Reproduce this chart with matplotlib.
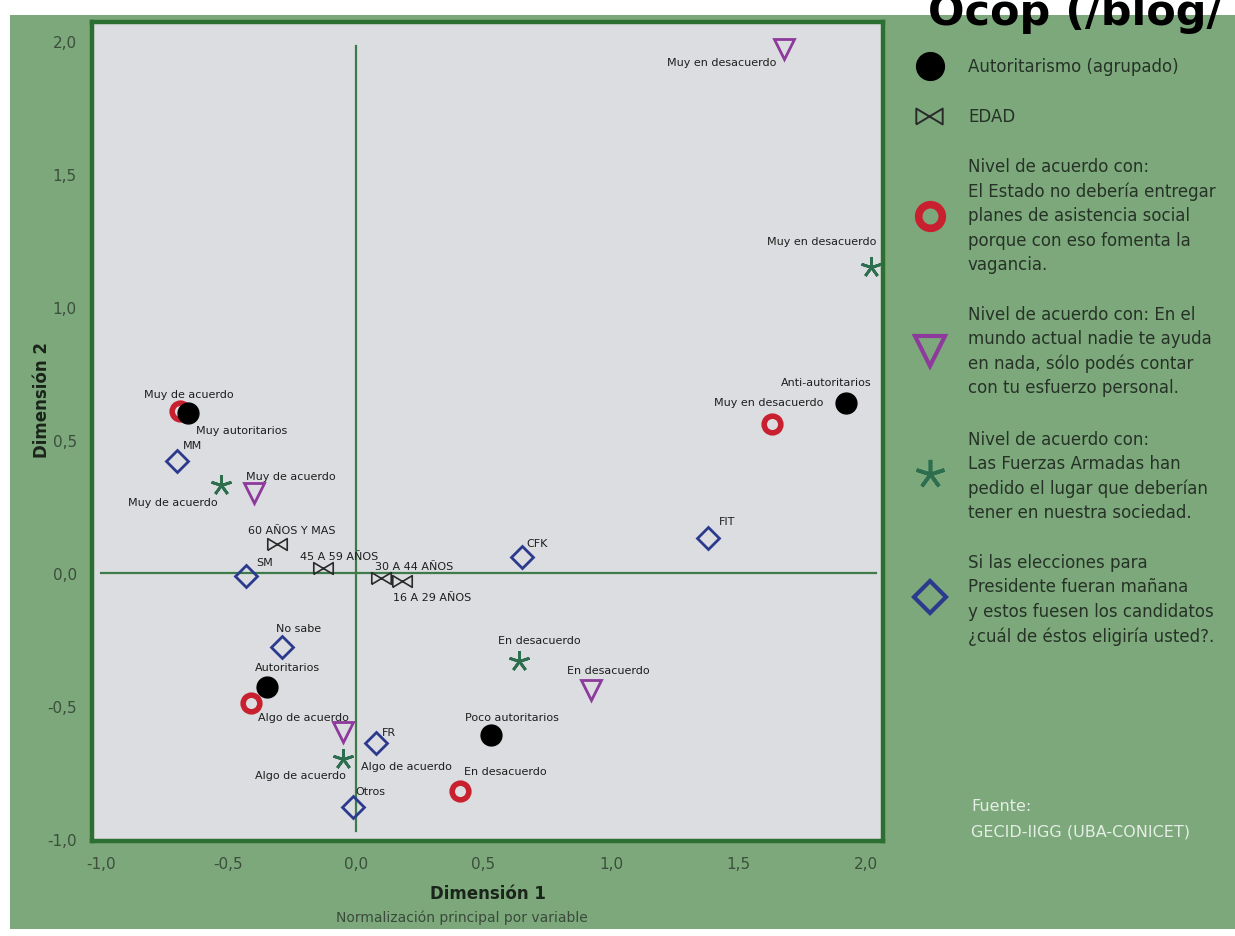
import matplotlib
matplotlib.use("Agg")
import matplotlib.pyplot as plt
from matplotlib.patches import Rectangle

# ---- data ----
# Autoritarismo (agrupado)
aut_labels = ["Muy autoritarios", "Anti-autoritarios", "Autoritarios", "Poco autoritarios"]
aut_x = [-0.66, 1.92, -0.35, 0.53]
aut_y = [0.60, 0.64, -0.43, -0.61]

# EDAD
edad_labels = ["60 AÑOS Y MAS", "45 A 59 AÑOS", "30 A 44 AÑOS", "16 A 29 AÑOS"]
edad_x = [-0.31, -0.13, 0.10, 0.18]
edad_y = [0.11, 0.02, -0.02, -0.03]

# El Estado no debería entregar planes de asistencia social...
planes_labels = ["Muy de acuerdo", "Muy en desacuerdo", "Algo de acuerdo", "En desacuerdo"]
planes_x = [-0.69, 1.63, -0.41, 0.41]
planes_y = [0.61, 0.56, -0.49, -0.82]

# En el mundo actual nadie te ayuda en nada...
ayuda_labels = ["Muy en desacuerdo", "Muy de acuerdo", "En desacuerdo", "Algo de acuerdo"]
ayuda_x = [1.68, -0.40, 0.92, -0.05]
ayuda_y = [1.97, 0.30, -0.44, -0.60]

# Las Fuerzas Armadas han perdido el lugar...
ffaa_labels = ["Muy en desacuerdo", "Muy de acuerdo", "En desacuerdo", "Algo de acuerdo"]
ffaa_x = [2.02, -0.53, 0.64, -0.05]
ffaa_y = [1.15, 0.33, -0.33, -0.70]

# Voto presidente
voto_labels = ["MM", "SM", "CFK", "FIT", "No sabe", "FR", "Otros"]
voto_x = [-0.70, -0.43, 0.65, 1.38, -0.29, 0.08, -0.01]
voto_y = [0.42, -0.01, 0.06, 0.13, -0.28, -0.64, -0.88]

x_ticks = [-1.0, -0.5, 0.0, 0.5, 1.0, 1.5, 2.0]
y_ticks = [-1.0, -0.5, 0.0, 0.5, 1.0, 1.5, 2.0]

# ---- label offsets in pixels (layout only) ----
aut_off = [(54, -17), (-19, 21), (21, 20), (21, 18)]
edad_off = [(15, 14), (16, 12), (33, 12), (30, -16)]
planes_off = [(9, 17), (-3, 22), (52, -14), (45, 20)]
ayuda_off = [(-63, -13), (37, 17), (18, 20), (63, -34)]
ffaa_off = [(-49, 26), (-48, -17), (20, 21), (-43, -16)]
voto_off = [(15, 16), (18, 14), (15, 14), (19, 17), (17, 19), (13, 11), (17, 16)]

BG = "#7ca87c"
PLOT_BG = "#dcdde0"
BORDER = "#2d6e32"
REF = "#3f7a4a"
RED = "#c8202f"
PURPLE = "#8e3a9c"
STAR = "#2d6e4e"
NAVY = "#2c3a8e"
BOW = "#2a2a2a"
LABEL = "#1e1e1e"
TICK = "#3b4f3b"

BOWTIE = [(-1, -0.6), (-1, 0.6), (1, -0.6), (1, 0.6), (-1, -0.6)]
ASTER = (5, 2, 0)

W, H = 1235, 937
fig = plt.figure(figsize=(W / 100, H / 100), dpi=100)
fig.patch.set_facecolor("white")
fig.add_artist(Rectangle((10 / W, 1 - 930 / H), (W - 10) / W, (930 - 16) / H,
                         transform=fig.transFigure, facecolor=BG,
                         edgecolor="none", zorder=-1))

ax = fig.add_axes([92 / W, 1 - 842 / H, (883 - 92) / W, (842 - 23) / H])
ax.set_facecolor(PLOT_BG)
ax.set_xlim(-1.035, 2.067)
ax.set_ylim(-1.008, 2.071)
for s in ax.spines.values():
    s.set_color(BORDER)
    s.set_linewidth(3.2)

ax.set_xticks(x_ticks)
ax.set_yticks(y_ticks)
ax.set_xticklabels([f"{v:.1f}".replace(".", ",") for v in x_ticks])
ax.set_yticklabels([f"{v:.1f}".replace(".", ",") for v in y_ticks])
ax.tick_params(length=0, labelsize=11, labelcolor=TICK, pad=11)

# reference axes through the origin
ax.plot([-1.0, 2.04], [0, 0], color=REF, lw=1.6, zorder=1)
ax.plot([0, 0], [-0.97, 1.98], color=REF, lw=1.6, zorder=1)

ax.plot(planes_x, planes_y, ls="none", marker="o", ms=12, mew=4,
        mfc="none", mec=RED, zorder=3)
ax.plot(aut_x, aut_y, ls="none", marker="o", ms=15, mfc="black",
        mec="black", zorder=4)
ax.plot(ayuda_x, ayuda_y, ls="none", marker="v", ms=14, mew=2,
        mfc="none", mec=PURPLE, zorder=3)
ax.plot(ffaa_x, ffaa_y, ls="none", marker=ASTER, ms=15, mew=2,
        color=STAR, zorder=3)
ax.plot(voto_x, voto_y, ls="none", marker="D", ms=11, mew=2,
        mfc="none", mec=NAVY, zorder=3)
ax.plot(edad_x, edad_y, ls="none", marker=BOWTIE, ms=14, mew=1.2,
        mfc="none", mec=BOW, zorder=3)

for labels, xs, ys, offs in [
    (aut_labels, aut_x, aut_y, aut_off),
    (edad_labels, edad_x, edad_y, edad_off),
    (planes_labels, planes_x, planes_y, planes_off),
    (ayuda_labels, ayuda_x, ayuda_y, ayuda_off),
    (ffaa_labels, ffaa_x, ffaa_y, ffaa_off),
    (voto_labels, voto_x, voto_y, voto_off),
]:
    for lab, x, y, (dx, dy) in zip(labels, xs, ys, offs):
        ax.annotate(lab, (x, y), xytext=(dx, dy), textcoords="offset pixels",
                    ha="center", va="center", fontsize=8, color=LABEL,
                    zorder=5)

ax.set_xlabel("Dimensión 1", fontsize=12, fontweight="bold", color="#1a241a",
              labelpad=9)
fig.text(462 / W, 1 - 918 / H, "Normalización principal por variable",
         ha="center", va="center", fontsize=10, color="#3a4a3a")
fig.text(42 / W, 1 - 400 / H, "Dimensión 2", rotation=90, ha="center",
         va="center", fontsize=12, fontweight="bold", color="#1a241a")

# ---- legend drawn on a pixel-space overlay ----
lg = fig.add_axes([0, 0, 1, 1], zorder=5)
lg.set_xlim(0, W)
lg.set_ylim(H, 0)
lg.axis("off")
lg.patch.set_alpha(0)

LEG_TXT = "#263226"
LX = 968
PITCH = 24.5

lg.plot([930], [67], marker="o", ms=20, color="black", ls="none")
lg.plot([929], [117], marker=BOWTIE, ms=19, mew=1.4, mfc="none", mec=BOW, ls="none")
lg.plot([930], [217], marker="o", ms=17, mew=5.5, mfc="none", mec=RED, ls="none")
lg.plot([930], [352], marker="v", ms=21, mew=3, mfc="none", mec=PURPLE, ls="none")
lg.plot([930], [475], marker=ASTER, ms=21, mew=2.6, color=STAR, ls="none")
lg.plot([930], [598], marker="D", ms=16, mew=3, mfc="none", mec=NAVY, ls="none")

legend_blocks = [
    (67, ["Autoritarismo (agrupado)"]),
    (117, ["EDAD"]),
    (167, ["Nivel de acuerdo con:",
           "El Estado no debería entregar",
           "planes de asistencia social",
           "porque con eso fomenta la",
           "vagancia."]),
    (315, ["Nivel de acuerdo con: En el",
           "mundo actual nadie te ayuda",
           "en nada, sólo podés contar",
           "con tu esfuerzo personal."]),
    (440, ["Nivel de acuerdo con:",
           "Las Fuerzas Armadas han",
           "pedido el lugar que deberían",
           "tener en nuestra sociedad."]),
    (563, ["Si las elecciones para",
           "Presidente fueran mañana",
           "y estos fuesen los candidatos",
           "¿cuál de éstos eligiría usted?."]),
]
for y0, lines in legend_blocks:
    for i, line in enumerate(lines):
        lg.text(LX, y0 + i * PITCH, line, ha="left", va="center",
                fontsize=12, color=LEG_TXT)

lg.text(971, 807, "Fuente:", ha="left", va="center", fontsize=11.5,
        color="#e4eee4")
lg.text(971, 832, "GECID-IIGG (UBA-CONICET)", ha="left", va="center",
        fontsize=11.5, color="#e4eee4")

# page header, cropped at the top edge as in the source screenshot
lg.text(928, 25, "Ocop (/blog/", ha="left", va="baseline", fontsize=31,
        fontweight="bold", color="black")

fig.savefig("out.png", dpi=100, facecolor=fig.get_facecolor())
